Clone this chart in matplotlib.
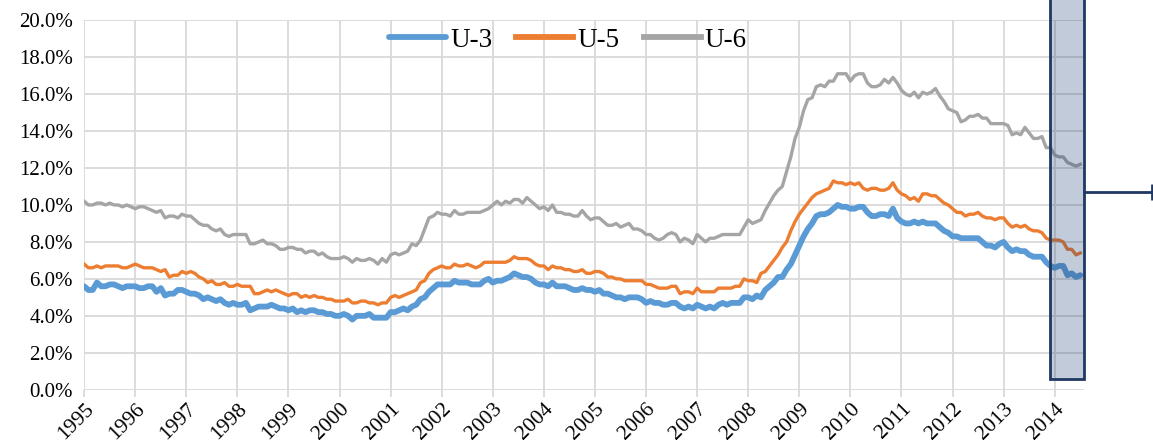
# import some common libraries
import numpy as np
import matplotlib.pyplot as plt
from matplotlib.patches import Rectangle

# monthly rates, Jan 1995 - Jul 2014 (percent)
u3 = [5.6, 5.4, 5.4, 5.8, 5.6, 5.6, 5.7, 5.7, 5.6, 5.5, 5.6, 5.6,
      5.6, 5.5, 5.5, 5.6, 5.6, 5.3, 5.5, 5.1, 5.2, 5.2, 5.4, 5.4,
      5.3, 5.2, 5.2, 5.1, 4.9, 5.0, 4.9, 4.8, 4.9, 4.7, 4.6, 4.7,
      4.6, 4.6, 4.7, 4.3, 4.4, 4.5, 4.5, 4.5, 4.6, 4.5, 4.4, 4.4,
      4.3, 4.4, 4.2, 4.3, 4.2, 4.3, 4.3, 4.2, 4.2, 4.1, 4.1, 4.0,
      4.0, 4.1, 4.0, 3.8, 4.0, 4.0, 4.0, 4.1, 3.9, 3.9, 3.9, 3.9,
      4.2, 4.2, 4.3, 4.4, 4.3, 4.5, 4.6, 4.9, 5.0, 5.3, 5.5, 5.7,
      5.7, 5.7, 5.7, 5.9, 5.8, 5.8, 5.8, 5.7, 5.7, 5.7, 5.9, 6.0,
      5.8, 5.9, 5.9, 6.0, 6.1, 6.3, 6.2, 6.1, 6.1, 6.0, 5.8, 5.7,
      5.7, 5.6, 5.8, 5.6, 5.6, 5.6, 5.5, 5.4, 5.4, 5.5, 5.4, 5.4,
      5.3, 5.4, 5.2, 5.2, 5.1, 5.0, 5.0, 4.9, 5.0, 5.0, 5.0, 4.9,
      4.7, 4.8, 4.7, 4.7, 4.6, 4.6, 4.7, 4.7, 4.5, 4.4, 4.5, 4.4,
      4.6, 4.5, 4.4, 4.5, 4.4, 4.6, 4.7, 4.6, 4.7, 4.7, 4.7, 5.0,
      5.0, 4.9, 5.1, 5.0, 5.4, 5.6, 5.8, 6.1, 6.1, 6.5, 6.8, 7.3,
      7.8, 8.3, 8.7, 9.0, 9.4, 9.5, 9.5, 9.6, 9.8, 10.0, 9.9, 9.9,
      9.8, 9.8, 9.9, 9.9, 9.6, 9.4, 9.4, 9.5, 9.5, 9.4, 9.8, 9.3,
      9.1, 9.0, 9.0, 9.1, 9.0, 9.1, 9.0, 9.0, 9.0, 8.8, 8.6, 8.5,
      8.3, 8.3, 8.2, 8.2, 8.2, 8.2, 8.2, 8.0, 7.8, 7.8, 7.7, 7.9,
      8.0, 7.7, 7.5, 7.6, 7.5, 7.5, 7.3, 7.2, 7.2, 7.2, 6.9, 6.7,
      6.6, 6.7, 6.7, 6.2, 6.3, 6.1, 6.2]
u5 = [6.8, 6.6, 6.6, 6.7, 6.6, 6.7, 6.7, 6.7, 6.7, 6.6, 6.6, 6.7,
      6.8, 6.7, 6.6, 6.6, 6.6, 6.5, 6.4, 6.5, 6.1, 6.2, 6.2, 6.4,
      6.3, 6.4, 6.3, 6.1, 6.0, 5.8, 5.9, 5.7, 5.7, 5.8, 5.6, 5.6,
      5.7, 5.6, 5.6, 5.6, 5.2, 5.2, 5.3, 5.4, 5.3, 5.4, 5.3, 5.2,
      5.1, 5.2, 5.2, 5.0, 5.1, 5.0, 5.1, 5.0, 5.0, 4.9, 4.9, 4.8,
      4.8, 4.8, 4.9, 4.7, 4.7, 4.8, 4.8, 4.7, 4.7, 4.6, 4.7, 4.7,
      5.0, 5.1, 5.0, 5.1, 5.2, 5.3, 5.4, 5.8, 5.9, 6.3, 6.5, 6.6,
      6.7, 6.6, 6.6, 6.8, 6.7, 6.7, 6.8, 6.7, 6.6, 6.7, 6.9, 6.9,
      6.9, 6.9, 6.9, 6.9, 7.0, 7.2, 7.1, 7.1, 7.1, 7.0, 6.8, 6.7,
      6.7, 6.5, 6.7, 6.6, 6.6, 6.5, 6.5, 6.4, 6.4, 6.5, 6.3, 6.3,
      6.4, 6.4, 6.3, 6.1, 6.1, 6.0, 6.0, 5.9, 5.9, 5.9, 5.9, 5.9,
      5.7, 5.7, 5.6, 5.5, 5.5, 5.5, 5.6, 5.6, 5.2, 5.3, 5.3, 5.2,
      5.5, 5.3, 5.3, 5.3, 5.3, 5.5, 5.5, 5.5, 5.5, 5.6, 5.6, 6.0,
      5.9, 5.9, 5.8, 6.3, 6.4, 6.7, 7.0, 7.3, 7.7, 8.0, 8.6, 9.1,
      9.5, 9.8, 10.1, 10.4, 10.6, 10.7, 10.8, 10.9, 11.3, 11.2, 11.2, 11.1,
      11.2, 11.1, 11.2, 10.9, 10.8, 10.9, 10.9, 10.8, 10.8, 10.9, 11.2, 10.8,
      10.6, 10.5, 10.3, 10.4, 10.2, 10.6, 10.6, 10.5, 10.5, 10.3, 10.1, 10.0,
      9.8, 9.6, 9.6, 9.4, 9.5, 9.5, 9.6, 9.4, 9.3, 9.3, 9.2, 9.3,
      9.3, 9.0, 8.8, 8.9, 8.8, 8.9, 8.7, 8.6, 8.6, 8.5, 8.2, 8.1,
      8.1, 8.1, 8.0, 7.6, 7.6, 7.3, 7.4]
u6 = [10.2, 10.0, 10.0, 10.1, 10.1, 10.0, 10.1, 10.0, 10.0, 9.9, 10.0, 9.9,
      9.8, 9.9, 9.9, 9.8, 9.7, 9.6, 9.7, 9.3, 9.4, 9.4, 9.3, 9.5,
      9.4, 9.4, 9.2, 9.0, 8.9, 8.9, 8.7, 8.6, 8.7, 8.4, 8.3, 8.4,
      8.4, 8.4, 8.4, 7.9, 7.9, 8.0, 8.1, 7.9, 7.9, 7.8, 7.6, 7.6,
      7.7, 7.7, 7.6, 7.6, 7.4, 7.5, 7.5, 7.3, 7.4, 7.2, 7.1, 7.1,
      7.1, 7.2, 7.1, 6.9, 7.1, 7.0, 7.0, 7.1, 7.0, 6.8, 7.1, 6.9,
      7.3, 7.4, 7.3, 7.4, 7.5, 7.9, 7.8, 8.1, 8.7, 9.3, 9.4, 9.6,
      9.5, 9.5, 9.4, 9.7, 9.5, 9.5, 9.6, 9.6, 9.6, 9.6, 9.7, 9.8,
      10.0, 10.2, 10.0, 10.2, 10.1, 10.3, 10.3, 10.1, 10.4, 10.2, 10.0, 9.8,
      9.9, 9.7, 10.0, 9.6, 9.6, 9.5, 9.5, 9.4, 9.4, 9.7, 9.4, 9.2,
      9.3, 9.3, 9.1, 8.9, 8.9, 9.0, 8.8, 8.9, 9.0, 8.7, 8.7, 8.6,
      8.4, 8.4, 8.2, 8.1, 8.2, 8.4, 8.5, 8.4, 8.0, 8.2, 8.1, 7.9,
      8.4, 8.2, 8.0, 8.2, 8.2, 8.3, 8.4, 8.4, 8.4, 8.4, 8.4, 8.8,
      9.2, 9.0, 9.1, 9.2, 9.7, 10.1, 10.5, 10.8, 11.0, 11.8, 12.6, 13.6,
      14.2, 15.1, 15.7, 15.8, 16.4, 16.5, 16.4, 16.7, 16.7, 17.1, 17.1, 17.1,
      16.7, 17.0, 17.1, 17.1, 16.6, 16.4, 16.4, 16.5, 16.8, 16.6, 16.9, 16.6,
      16.2, 16.0, 15.9, 16.1, 15.8, 16.1, 16.0, 16.1, 16.3, 15.9, 15.6, 15.2,
      15.1, 15.0, 14.5, 14.6, 14.8, 14.8, 14.9, 14.7, 14.7, 14.4, 14.4, 14.4,
      14.4, 14.3, 13.8, 13.9, 13.8, 14.2, 13.9, 13.6, 13.6, 13.7, 13.1, 13.1,
      12.7, 12.6, 12.6, 12.3, 12.2, 12.1, 12.2]
years = list(range(1995, 2015))  # tick labels

plt.rcParams['font.family'] = 'Liberation Serif'

t = 1995 + np.arange(len(u3)) / 12.0

fig = plt.figure(figsize=(11.53, 4.48), dpi=100)
ax = fig.add_axes([0.073, 0.13, 0.867, 0.825])

ax.plot(t, u3, color='#5B9BD5', lw=4.2, label='U-3', solid_capstyle='round')
ax.plot(t, u5, color='#ED7D31', lw=2.4, label='U-5')
ax.plot(t, u6, color='#A5A5A5', lw=2.4, label='U-6')

ax.set_xlim(1995, 2014.57)
ax.set_ylim(0, 20)
ax.set_yticks(np.arange(0, 21, 2))
ax.set_yticklabels(['%.1f%%' % v for v in np.arange(0, 21, 2)], fontsize=15)
ax.set_xticks(years)
ax.set_xticklabels([str(y) for y in years], fontsize=15.5, rotation=45,
                   ha='right', rotation_mode='anchor')
ax.grid(True, color='#D9D9D9', lw=1.3)
ax.set_axisbelow(True)
for s in ax.spines.values():
    s.set_visible(False)
ax.tick_params(axis='y', length=0, pad=8)
ax.tick_params(axis='x', length=5, color='#D9D9D9', width=1.3, pad=2)

# highlighted box at the end
box = Rectangle((2013.9, 0.6), 0.67, 21.0, facecolor=(0.13, 0.25, 0.45, 0.27),
                edgecolor='#1F3864', lw=2, clip_on=False, zorder=5)
ax.add_patch(box)
ax.plot([2014.57, 2015.9], [10.7, 10.7], color='#1F3864', lw=2, clip_on=False, zorder=5)
ax.plot([2015.9], [10.7], marker='|', ms=11, mew=2, color='#1F3864', clip_on=False)

leg = ax.legend(loc='upper center', bbox_to_anchor=(0.484, 1.045), ncol=3, frameon=False,
                fontsize=19.5, handlelength=2.1, handletextpad=0.15, columnspacing=0.9)
for h in leg.get_lines():
    h.set_linewidth(4.2)

plt.savefig('out.png', dpi=100)
